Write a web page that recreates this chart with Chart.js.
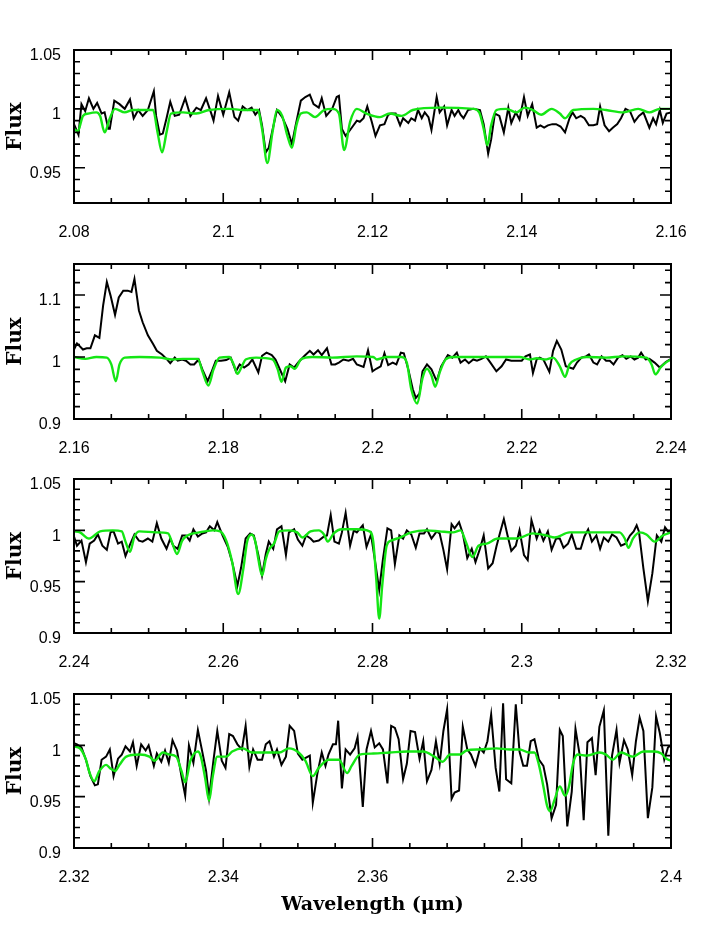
<!DOCTYPE html>
<html lang="en">
<head>
<meta charset="UTF-8">
<title>Flux vs wavelength</title>
<style>
  body { margin: 0; background: #fff; }
  canvas.panel { position: absolute; left: 0; }
</style>
</head>
<body>
<canvas id="p1" class="panel"></canvas>
<canvas id="p2" class="panel"></canvas>
<canvas id="p3" class="panel"></canvas>
<canvas id="p4" class="panel"></canvas>

<script src="https://cdn.jsdelivr.net/npm/chart.js@4.4.1/dist/chart.umd.min.js"></script>
<script>
// ---- tick labels ----
var p1XTicks = [2.08, 2.1, 2.12, 2.14, 2.16];
var p2XTicks = [2.16, 2.18, 2.2, 2.22, 2.24];
var p3XTicks = [2.24, 2.26, 2.28, 2.3, 2.32];
var p4XTicks = [2.32, 2.34, 2.36, 2.38, 2.4];
var p1YTicks = [0.95, 1, 1.05];
var p2YTicks = [0.9, 1, 1.1];
var p3YTicks = [0.9, 0.95, 1, 1.05];
var p4YTicks = [0.9, 0.95, 1, 1.05];

// ---- panel 1 (2.08 - 2.16) ----
var p1ObsWave = [2.0800,2.0806,2.0810,2.0815,2.0820,2.0826,2.0831,2.0837,2.0841,2.0846,2.0848,2.0854,2.0861,2.0868,2.0875,2.0880,2.0886,2.0892,2.0899,2.0907,2.0910,2.0915,2.0919,2.0924,2.0929,2.0935,2.0941,2.0949,2.0956,2.0964,2.0970,2.0977,2.0984,2.0987,2.0993,2.1000,2.1008,2.1015,2.1020,2.1026,2.1032,2.1038,2.1043,2.1048,2.1052,2.1057,2.1061,2.1066,2.1072,2.1079,2.1086,2.1092,2.1097,2.1104,2.1110,2.1116,2.1121,2.1128,2.1132,2.1138,2.1146,2.1152,2.1155,2.1159,2.1164,2.1170,2.1179,
  2.1183,2.1188,2.1193,2.1199,2.1204,2.1210,2.1216,2.1221,2.1225,2.1231,2.1237,2.1241,2.1248,2.1252,2.1257,2.1261,2.1266,2.1270,2.1275,2.1279,2.1286,2.1290,2.1296,2.1300,2.1306,2.1310,2.1315,2.1318,2.1322,2.1328,2.1335,2.1344,2.1349,2.1355,2.1359,2.1364,2.1370,2.1376,2.1382,2.1386,2.1392,2.1397,2.1403,2.1408,2.1414,2.1420,2.1425,2.1430,2.1435,2.1441,2.1446,2.1452,2.1458,2.1464,2.1468,2.1473,2.1479,2.1484,2.1490,2.1496,2.1501,2.1505,2.1511,2.1517,2.1522,2.1528,2.1533,2.1539,2.1545,2.1551,2.1557,2.1563,2.1571,2.1576,2.1580,2.1585,2.1589,2.1594,2.1600];
var p1ObsFlux = [0.987,0.978,1.004,0.998,1.009,1.000,1.005,0.996,0.997,0.983,0.983,1.007,1.004,1.000,1.008,0.992,0.999,0.994,0.999,1.015,0.994,0.978,0.979,0.992,1.006,0.994,0.995,1.009,0.994,1.001,0.999,1.009,0.996,0.990,1.011,0.995,1.014,0.993,0.990,1.002,0.999,1.001,0.995,0.999,0.986,0.963,0.967,0.982,0.999,0.993,0.983,0.970,0.986,1.007,1.010,1.012,1.004,1.001,1.009,0.994,1.000,1.010,1.011,0.983,0.977,0.982,0.990,
  0.989,0.992,1.002,0.989,0.977,0.986,0.987,0.995,0.996,0.996,0.986,0.992,0.988,0.992,0.990,0.999,0.992,0.997,0.993,0.982,1.010,0.997,1.002,0.986,0.999,0.994,0.999,0.995,0.992,0.999,1.000,0.999,0.987,0.962,0.974,0.996,0.994,0.980,1.001,0.988,0.997,0.991,1.010,0.994,1.004,0.984,0.986,0.984,0.986,0.987,0.987,0.985,0.980,0.992,0.997,0.992,0.994,0.992,0.986,0.986,0.987,1.002,0.986,0.981,0.984,0.987,0.992,1.000,0.998,0.989,0.994,0.997,0.984,0.992,0.987,0.999,0.988,0.996,0.997];
var p1ModWave = [2.0800,2.0805,2.0812,2.0819,2.0830,2.0835,2.0841,2.0848,2.0855,2.0868,2.0879,2.0897,2.0906,2.0912,2.0918,2.0924,2.0930,2.0946,2.0964,2.0981,2.1008,2.1026,2.1046,2.1052,2.1059,2.1066,2.1072,2.1079,2.1086,2.1092,2.1098,2.1104,2.1112,2.1123,2.1135,2.1146,2.1155,2.1162,2.1170,2.1179,
  2.1192,2.1210,2.1223,2.1239,2.1254,2.1290,2.1335,2.1343,2.1349,2.1354,2.1359,2.1366,2.1379,2.1393,2.1404,2.1415,2.1426,2.1440,2.1451,2.1458,2.1469,2.1496,2.1513,2.1536,2.1556,2.1571,2.1585,2.1600];
var p1ModFlux = [0.983,0.981,0.994,0.996,0.997,0.994,0.980,0.992,1.000,0.997,0.999,0.999,0.999,0.980,0.963,0.980,0.996,0.997,0.996,0.999,1.000,0.999,0.999,0.983,0.954,0.980,0.999,0.994,0.977,0.967,0.986,0.996,0.997,0.993,0.999,1.000,0.996,0.965,0.989,1.000,
  0.996,0.993,0.996,0.994,0.999,1.001,1.000,0.997,0.983,0.969,0.986,0.999,1.000,0.997,1.001,0.999,0.995,1.000,0.996,0.992,0.999,1.000,0.999,0.997,1.000,0.997,1.000,1.000];

// ---- panel 2 (2.16 - 2.24) ----
var p2ObsWave = [2.1600,2.1604,2.1612,2.1617,2.1622,2.1628,2.1634,2.1639,2.1644,2.1649,2.1655,2.1660,2.1666,2.1672,2.1677,2.1681,2.1687,2.1692,2.1699,2.1706,2.1711,2.1718,2.1724,2.1729,2.1735,2.1739,2.1745,2.1750,2.1756,2.1761,2.1767,2.1772,2.1779,2.1784,2.1790,2.1797,2.1804,2.1810,2.1817,2.1822,2.1828,2.1834,2.1839,2.1847,2.1852,2.1858,2.1865,2.1870,2.1877,2.1883,2.1889,2.1895,2.1901,2.1909,2.1916,2.1921,2.1927,2.1932,2.1939,2.1945,2.1950,2.1955,2.1961,2.1968,2.1974,2.1979,
  2.1988,2.1994,2.2000,2.2005,2.2011,2.2016,2.2021,2.2027,2.2032,2.2038,2.2042,2.2048,2.2054,2.2058,2.2063,2.2067,2.2073,2.2079,2.2086,2.2092,2.2101,2.2107,2.2113,2.2118,2.2124,2.2129,2.2135,2.2140,2.2146,2.2152,2.2158,2.2166,2.2173,2.2179,2.2186,2.2193,2.2200,2.2205,2.2211,2.2215,2.2220,2.2224,2.2229,2.2237,2.2242,2.2247,2.2253,2.2259,2.2264,2.2269,2.2274,2.2280,2.2286,2.2290,2.2296,2.2301,2.2307,2.2313,2.2318,2.2323,2.2329,2.2335,2.2340,2.2346,2.2351,2.2356,2.2360,2.2366,2.2371,2.2378,2.2385,2.2393,2.2400];
var p2ObsFlux = [1.012,1.022,1.012,1.014,1.014,1.035,1.031,1.083,1.121,1.099,1.068,1.096,1.107,1.107,1.105,1.126,1.075,1.056,1.035,1.021,1.010,1.004,0.997,0.990,0.999,0.994,0.996,0.994,0.988,0.988,0.996,0.980,0.961,0.975,0.994,0.994,0.995,0.999,0.977,0.988,0.983,0.988,0.996,0.975,1.002,1.007,1.003,0.996,0.977,0.961,0.988,0.983,0.992,1.002,1.010,1.004,1.011,1.003,1.014,0.988,0.988,0.991,0.996,0.994,0.997,0.988,
  0.984,1.011,0.977,0.981,0.985,1.006,0.987,0.991,0.988,1.007,1.006,0.980,0.948,0.934,0.941,0.977,0.988,0.980,0.961,0.985,1.003,0.999,1.007,0.991,0.996,0.990,0.996,0.994,0.997,1.001,0.991,0.977,0.985,0.996,0.994,0.994,0.994,1.001,1.004,0.974,0.996,0.999,0.996,0.976,1.010,1.026,1.012,0.985,0.983,0.981,0.991,0.999,1.001,1.004,0.991,0.988,1.001,0.994,0.994,0.988,0.999,1.003,0.997,1.001,0.996,0.999,1.007,0.996,0.997,0.991,0.983,0.992,0.997];
var p2ModWave = [2.1600,2.1615,2.1630,2.1644,2.1650,2.1656,2.1661,2.1668,2.1688,2.1715,2.1732,2.1746,2.1766,2.1772,2.1780,2.1787,2.1795,2.1808,2.1814,2.1819,2.1825,2.1830,2.1844,2.1866,2.1873,2.1878,2.1884,2.1890,2.1896,2.1904,2.1919,2.1946,2.1979,
  2.2001,2.2006,2.2019,2.2039,2.2046,2.2052,2.2060,2.2067,2.2073,2.2079,2.2084,2.2090,2.2098,2.2108,2.2157,2.2197,2.2211,2.2220,2.2231,2.2242,2.2251,2.2258,2.2264,2.2273,2.2287,2.2313,2.2336,2.2367,2.2374,2.2379,2.2386,2.2393,2.2400];
var p2ModFlux = [1.000,0.997,1.000,0.999,0.988,0.961,0.988,0.999,1.000,0.999,0.996,0.997,0.997,0.977,0.954,0.980,0.999,1.000,0.988,0.973,0.985,0.996,0.999,0.996,0.980,0.960,0.983,0.985,0.981,0.996,1.000,0.999,1.001,
  1.000,0.996,1.000,1.000,0.991,0.948,0.925,0.966,0.981,0.970,0.952,0.975,0.996,1.000,1.000,1.000,0.996,0.998,0.996,0.999,0.985,0.968,0.988,0.996,1.000,0.999,1.001,0.999,0.988,0.972,0.983,0.991,0.996];

// ---- panel 3 (2.24 - 2.32) ----
var p3ObsWave = [2.2400,2.2404,2.2410,2.2416,2.2421,2.2427,2.2432,2.2438,2.2444,2.2449,2.2453,2.2459,2.2464,2.2469,2.2475,2.2481,2.2487,2.2492,2.2499,2.2505,2.2511,2.2517,2.2524,2.2529,2.2533,2.2539,2.2545,2.2550,2.2555,2.2560,2.2566,2.2572,2.2577,2.2582,2.2588,2.2592,2.2599,2.2606,2.2612,2.2619,2.2624,2.2630,2.2636,2.2641,2.2647,2.2652,2.2657,2.2661,2.2667,2.2672,2.2678,2.2684,2.2688,2.2695,2.2700,2.2706,2.2711,2.2717,2.2721,2.2728,2.2735,2.2739,2.2744,2.2749,2.2755,2.2759,2.2764,2.2770,2.2775,2.2779,
  2.2787,2.2792,2.2798,2.2803,2.2809,2.2814,2.2820,2.2825,2.2830,2.2836,2.2841,2.2846,2.2852,2.2858,2.2863,2.2869,2.2873,2.2879,2.2886,2.2890,2.2895,2.2900,2.2906,2.2910,2.2916,2.2921,2.2927,2.2933,2.2938,2.2944,2.2949,2.2955,2.2961,2.2966,2.2971,2.2976,2.2981,2.2986,2.2992,2.2997,2.3003,2.3008,2.3013,2.3020,2.3024,2.3029,2.3035,2.3040,2.3046,2.3051,2.3056,2.3062,2.3067,2.3073,2.3079,2.3084,2.3089,2.3094,2.3100,2.3105,2.3110,2.3116,2.3121,2.3127,2.3133,2.3139,2.3145,2.3150,2.3154,2.3157,2.3163,2.3169,2.3175,2.3181,2.3187,2.3192,2.3197,2.3200];
var p3ObsFlux = [0.994,0.985,0.990,0.969,0.987,0.990,0.996,0.985,0.981,0.998,0.999,0.987,0.989,0.975,0.986,0.996,0.990,0.989,0.992,0.989,1.007,0.992,0.982,0.992,0.985,0.982,0.995,0.995,0.990,1.001,0.994,0.997,0.998,1.004,1.000,1.008,0.995,0.984,0.969,0.946,0.964,0.992,0.997,0.995,0.976,0.956,0.977,0.989,0.982,1.001,1.004,0.976,0.998,1.001,0.991,0.985,0.995,0.992,0.989,0.990,0.994,0.995,1.015,0.989,0.987,0.998,1.017,0.985,1.000,0.998,
  1.005,0.984,0.996,0.972,0.942,0.972,1.002,1.000,0.967,0.995,0.992,1.000,0.996,0.983,0.997,0.997,1.001,0.992,0.999,0.997,0.981,0.962,1.006,1.002,1.008,0.997,0.973,0.982,0.969,0.982,0.995,0.963,0.968,0.984,0.998,1.011,0.995,0.980,0.985,1.000,0.976,0.971,1.010,0.992,1.000,0.990,0.999,0.981,0.992,0.992,0.983,0.987,0.996,0.982,0.982,0.994,1.001,0.989,0.995,0.982,0.993,0.989,0.996,0.993,0.985,0.987,0.995,0.999,1.005,0.999,0.963,0.931,0.958,0.995,0.989,1.003,0.998,0.999];
var p3ModWave = [2.2400,2.2408,2.2420,2.2435,2.2452,2.2464,2.2469,2.2475,2.2481,2.2488,2.2510,2.2526,2.2532,2.2538,2.2545,2.2552,2.2568,2.2586,2.2596,2.2604,2.2612,2.2620,2.2627,2.2632,2.2638,2.2643,2.2647,2.2652,2.2657,2.2662,2.2668,2.2675,2.2688,2.2699,2.2706,2.2717,2.2728,2.2735,2.2740,2.2748,2.2759,2.2779,
  2.2796,2.2801,2.2805,2.2809,2.2813,2.2819,2.2825,2.2837,2.2852,2.2872,2.2890,2.2908,2.2918,2.2925,2.2934,2.2942,2.2953,2.2968,2.2993,2.3015,2.3033,2.3044,2.3064,2.3091,2.3131,2.3138,2.3143,2.3149,2.3158,2.3167,2.3178,2.3189,2.3200];
var p3ModFlux = [0.999,0.998,0.992,0.999,1.000,0.999,0.989,0.979,0.994,0.999,0.998,0.997,0.987,0.977,0.990,0.995,0.998,1.000,0.999,0.990,0.969,0.938,0.963,0.989,0.996,0.989,0.972,0.956,0.972,0.982,0.987,0.999,1.000,0.998,0.993,0.999,1.000,0.996,0.989,0.997,1.001,1.001,
  0.999,0.989,0.953,0.914,0.946,0.985,0.990,0.993,0.998,1.000,0.999,0.998,1.000,0.989,0.974,0.985,0.987,0.992,0.992,0.997,0.995,0.993,0.998,0.998,0.998,0.992,0.983,0.992,0.998,0.996,0.989,0.995,0.998];

// ---- panel 4 (2.32 - 2.40) ----
var p4ObsWave = [2.3200,2.3204,2.3210,2.3216,2.3222,2.3228,2.3232,2.3237,2.3243,2.3248,2.3253,2.3259,2.3264,2.3269,2.3275,2.3279,2.3284,2.3290,2.3296,2.3300,2.3307,2.3311,2.3317,2.3322,2.3327,2.3332,2.3338,2.3344,2.3349,2.3354,2.3360,2.3366,2.3371,2.3377,2.3381,2.3387,2.3392,2.3398,2.3403,2.3408,2.3413,2.3419,2.3425,2.3430,2.3435,2.3440,2.3446,2.3452,2.3457,2.3462,2.3468,2.3472,2.3478,2.3484,2.3489,2.3495,2.3500,2.3506,2.3511,2.3516,2.3520,2.3526,2.3532,2.3537,2.3541,2.3547,2.3551,2.3554,2.3559,2.3564,2.3570,2.3576,2.3580,
  2.3587,2.3592,2.3598,2.3603,2.3609,2.3614,2.3620,2.3625,2.3630,2.3635,2.3641,2.3646,2.3651,2.3657,2.3663,2.3668,2.3673,2.3679,2.3685,2.3690,2.3695,2.3700,2.3706,2.3710,2.3716,2.3721,2.3727,2.3732,2.3738,2.3744,2.3749,2.3754,2.3759,2.3765,2.3770,2.3775,2.3779,2.3786,2.3792,2.3797,2.3802,2.3807,2.3812,2.3817,2.3823,2.3829,2.3834,2.3840,2.3846,2.3851,2.3855,2.3861,2.3867,2.3872,2.3878,2.3883,2.3888,2.3894,2.3899,2.3904,2.3910,2.3916,2.3921,2.3927,2.3931,2.3937,2.3942,2.3948,2.3953,2.3958,2.3963,2.3969,2.3975,2.3980,2.3985,2.3991,2.3996,2.4000];
var p4ObsFlux = [1.002,1.001,0.998,0.986,0.970,0.961,0.962,0.986,0.989,0.996,0.970,0.987,0.991,0.999,0.994,1.003,0.980,1.001,0.995,1.000,0.980,0.992,0.984,0.995,0.983,1.005,0.995,0.970,0.951,1.000,0.983,1.015,0.997,0.975,0.949,0.986,1.014,0.985,0.978,1.011,1.009,1.001,0.996,1.019,0.979,0.996,0.986,0.986,1.001,1.004,0.989,0.996,0.981,0.989,1.019,1.014,0.992,0.986,0.988,0.990,0.944,0.972,0.993,0.980,0.991,1.001,1.001,1.024,0.958,0.996,0.991,0.997,1.008,
  0.940,0.996,1.014,0.998,1.002,0.996,0.963,1.019,1.017,1.006,0.967,0.982,1.014,1.013,0.987,1.004,0.965,0.976,1.004,0.982,1.014,1.035,0.948,0.954,0.956,1.018,0.996,0.991,0.980,0.997,0.993,1.004,1.030,0.978,0.955,1.041,0.967,0.963,1.040,0.994,0.980,0.980,1.004,1.006,0.986,0.980,0.962,0.929,0.942,1.015,1.009,0.921,0.955,1.016,0.989,0.927,1.003,1.007,0.971,1.018,1.034,0.912,0.990,1.015,0.983,1.005,0.996,0.971,1.004,1.027,1.014,0.929,0.959,1.028,1.012,0.986,0.998,1.000];
var p4ModWave = [2.3200,2.3208,2.3216,2.3221,2.3227,2.3234,2.3243,2.3248,2.3255,2.3261,2.3270,2.3288,2.3301,2.3308,2.3319,2.3328,2.3337,2.3344,2.3349,2.3356,2.3366,2.3370,2.3376,2.3381,2.3386,2.3392,2.3404,2.3412,2.3426,2.3439,2.3457,2.3475,2.3488,2.3501,2.3510,2.3520,2.3528,2.3541,2.3555,2.3566,2.3572,2.3583,
  2.3601,2.3623,2.3646,2.3668,2.3683,2.3694,2.3704,2.3717,2.3726,2.3744,2.3766,2.3784,2.3797,2.3810,2.3817,2.3823,2.3829,2.3834,2.3838,2.3844,2.3851,2.3858,2.3863,2.3869,2.3875,2.3887,2.3904,2.3913,2.3922,2.3933,2.3949,2.3963,2.3978,2.3987,2.3994,2.4000];
var p4ModFlux = [0.999,0.997,0.986,0.973,0.965,0.975,0.981,0.978,0.975,0.981,0.989,0.991,0.989,0.985,0.993,0.991,0.989,0.975,0.964,0.985,0.994,0.989,0.967,0.946,0.970,0.989,0.989,0.994,0.997,0.993,0.993,0.993,0.997,0.993,0.985,0.970,0.978,0.986,0.986,0.973,0.980,0.991,
  0.992,0.993,0.994,0.994,0.989,0.984,0.991,0.991,0.995,0.996,0.997,0.996,0.996,0.993,0.993,0.981,0.960,0.941,0.936,0.947,0.960,0.951,0.959,0.983,0.991,0.990,0.993,0.991,0.986,0.993,0.989,0.994,0.994,0.992,0.987,0.985];

var GREEN = 'rgb(20,230,20)';
var TICK_FONT = { family: "'Liberation Sans', Arial, sans-serif", size: 16 };
var TITLE_FONT = { family: "'DejaVu Serif', serif", size: 19, weight: 'bold' };
var FLUX_FONT = { family: "'DejaVu Serif', serif", size: 20, weight: 'bold' };
var PAD_TOP = 30;

// inward tick marks on all four sides + box frame
function steps(min, max, step) {
    var out = [];
    for (var i = 0; ; i++) {
        var v = Math.round((min + i * step) * 1e6) / 1e6;
        if (v > max + 1e-9) break;
        out.push(v);
    }
    return out;
}
function isMajor(v, list) {
    return list.some(function(m) { return Math.abs(m - v) < 1e-6; });
}
var frameTicks = {
    id: 'frameTicks',
    afterDatasetsDraw: function(chart, args, o) {
        var ctx = chart.ctx, a = chart.chartArea, x = chart.scales.x, y = chart.scales.y;
        ctx.save();
        ctx.strokeStyle = '#000';
        ctx.lineWidth = 1.6;
        ctx.beginPath();
        steps(x.min, x.max, o.xMinor).forEach(function(v) {
            var px = x.getPixelForValue(v);
            var len = isMajor(v, o.xMajor) ? 10 : 5;
            ctx.moveTo(px, a.bottom); ctx.lineTo(px, a.bottom - len);
            ctx.moveTo(px, a.top); ctx.lineTo(px, a.top + len);
        });
        steps(y.min, y.max, o.yMinor).forEach(function(v) {
            var py = y.getPixelForValue(v);
            var len = isMajor(v, o.yMajor) ? 11 : 6;
            ctx.moveTo(a.left, py); ctx.lineTo(a.left + len, py);
            ctx.moveTo(a.right, py); ctx.lineTo(a.right - len, py);
        });
        ctx.stroke();
        ctx.lineWidth = 2;
        ctx.strokeRect(a.left, a.top, a.right - a.left, a.bottom - a.top);
        ctx.restore();
    }
};

function points(wave, flux) {
    return wave.map(function(w, i) { return { x: w, y: flux[i] }; });
}

function drawPanel(p) {
    var canvas = document.getElementById(p.id);
    var axisH = p.xTitle ? 80 : 45;
    canvas.width = 708;
    canvas.height = p.height + PAD_TOP + axisH;
    canvas.style.top = (p.top - PAD_TOP) + 'px';

    new Chart(canvas, {
        type: 'line',
        data: {
            datasets: [{
                data: points(p.modWave, p.modFlux),
                borderColor: GREEN,
                borderWidth: 2.4,
                pointRadius: 0,
                cubicInterpolationMode: 'monotone'
            }, {
                data: points(p.obsWave, p.obsFlux),
                borderColor: '#000',
                borderWidth: 2,
                pointRadius: 0,
                tension: 0
            }]
        },
        options: {
            responsive: false,
            animation: false,
            devicePixelRatio: 1,
            layout: { padding: { top: PAD_TOP, right: 37, left: 0, bottom: 0 } },
            plugins: {
                legend: { display: false },
                tooltip: { enabled: false },
                frameTicks: { xMinor: 0.005, xMajor: p.xTicks, yMinor: p.yMinor, yMajor: p.yTicks }
            },
            scales: {
                x: {
                    type: 'linear',
                    min: p.xTicks[0],
                    max: p.xTicks[p.xTicks.length - 1],
                    grid: { display: false, drawTicks: false },
                    border: { display: false },
                    ticks: {
                        font: TICK_FONT, color: '#000', padding: 20, maxRotation: 0, autoSkip: false,
                        callback: function(v) { return String(v); }
                    },
                    afterBuildTicks: function(s) { s.ticks = p.xTicks.map(function(v) { return { value: v }; }); },
                    afterFit: function(s) { s.height = axisH; },
                    title: {
                        display: !!p.xTitle, text: p.xTitle, color: '#000', font: TITLE_FONT,
                        padding: { top: 0, bottom: 12 }
                    }
                },
                y: {
                    min: p.yMin,
                    max: p.yMax,
                    grid: { display: false, drawTicks: false },
                    border: { display: false },
                    ticks: {
                        font: TICK_FONT, color: '#000', padding: 13, labelOffset: 6, autoSkip: false,
                        callback: function(v) { return String(v); }
                    },
                    afterBuildTicks: function(s) { s.ticks = p.yTicks.map(function(v) { return { value: v }; }); },
                    afterFit: function(s) { s.width = 74; },
                    title: {
                        display: true, text: 'Flux', color: '#000', font: FLUX_FONT,
                        padding: { top: 4, bottom: 0 }
                    }
                }
            }
        },
        plugins: [frameTicks]
    });
}

drawPanel({ id: 'p1', top: 50, height: 153, yMin: 0.92, yMax: 1.05, yMinor: 0.01, xTicks: p1XTicks, yTicks: p1YTicks,
    obsWave: p1ObsWave, obsFlux: p1ObsFlux, modWave: p1ModWave, modFlux: p1ModFlux, xTitle: '' });
drawPanel({ id: 'p2', top: 264, height: 155, yMin: 0.9, yMax: 1.15, yMinor: 0.02, xTicks: p2XTicks, yTicks: p2YTicks,
    obsWave: p2ObsWave, obsFlux: p2ObsFlux, modWave: p2ModWave, modFlux: p2ModFlux, xTitle: '' });
drawPanel({ id: 'p3', top: 479, height: 154, yMin: 0.9, yMax: 1.05, yMinor: 0.01, xTicks: p3XTicks, yTicks: p3YTicks,
    obsWave: p3ObsWave, obsFlux: p3ObsFlux, modWave: p3ModWave, modFlux: p3ModFlux, xTitle: '' });
drawPanel({ id: 'p4', top: 694, height: 154, yMin: 0.9, yMax: 1.05, yMinor: 0.01, xTicks: p4XTicks, yTicks: p4YTicks,
    obsWave: p4ObsWave, obsFlux: p4ObsFlux, modWave: p4ModWave, modFlux: p4ModFlux, xTitle: 'Wavelength (\u03bcm)' });
</script>
</body>
</html>
